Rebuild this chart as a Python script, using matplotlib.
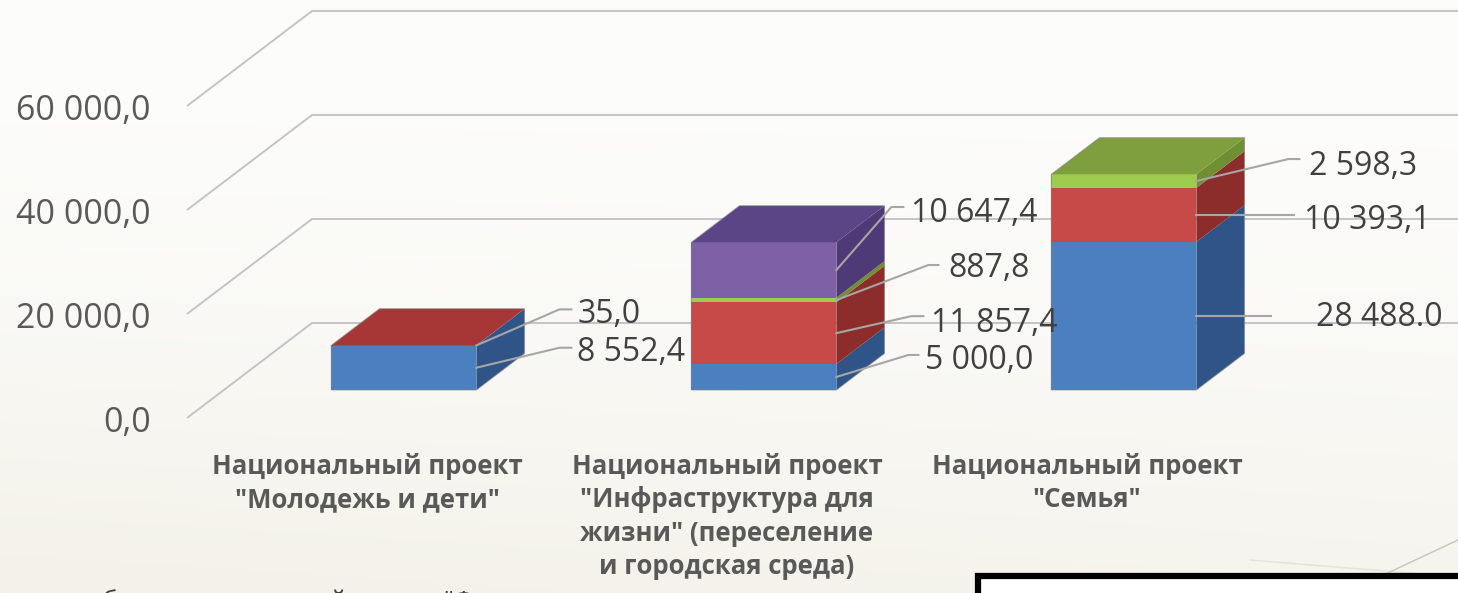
import numpy as np
import matplotlib.pyplot as plt
from matplotlib.patches import Polygon, Rectangle

plt.rcParams['font.family'] = ['Open Sans', 'DejaVu Sans']

# --- data ---
categories = [
    'Национальный проект\n"Молодежь и дети"',
    'Национальный проект\n"Инфраструктура для\nжизни" (переселение\nи городская среда)',
    'Национальный проект\n"Семья"',
]
blue_vals = [8552.4, 5000.0, 28488.0]
red_vals = [35.0, 11857.4, 10393.1]
green_vals = [0.0, 887.8, 2598.3]
purple_vals = [0.0, 10647.4, 0.0]
y_ticks = [0, 20000, 40000, 60000]

series = [blue_vals, red_vals, green_vals, purple_vals]
# front, side, top colours for each series
faces = [
    ('#4a7fc0', '#2f5588', '#3d6aa6'),
    ('#c84a48', '#8c2c2b', '#a63736'),
    ('#9fcb4f', '#6f8f32', '#7f9f3e'),
    ('#7e60a6', '#4e3a77', '#5b4587'),
]
# one label in the source uses a point instead of a comma
label_override = {(2, 0): '28 488.0'}

# leader line shape per label: elbow, end of leader, text anchor (pixels from bar edge)
leaders = {
    (0, 0): ((83, 20), (95, 20), (101, 15)),
    (0, 1): ((83, 36), (95, 36), (101, 31)),
    (1, 0): ((72, 22), (82, 22), (89, 16)),
    (1, 1): ((75, 17), (87, 17), (95, 10)),
    (1, 2): ((92, 35), (102, 35), (112, 32)),
    (1, 3): ((55, 63), (67, 63), (75, 57)),
    (2, 0): ((75, 0), (75, 0), (120, -2)),
    (2, 1): ((98, 0), (98, 0), (108, -6)),
    (2, 2): ((92, 22), (103, 22), (113, 15)),
}


def fmt(v):
    s = f'{v:,.1f}'.replace(',', ' ').replace('.', ',')
    return s


# --- layout (pixels) ---
W, H = 1458, 593
x0_px = 367        # centre of the first category on the front plane
step_px = 360      # distance between categories
zero_px = 418      # value 0 on the front plane, from the top
px_per_val = 0.0052
depth_px = (125, 95)
bar_half = 72.5 / step_px
z_front, z_back = 0.295, 0.68

fig = plt.figure(figsize=(W / 100, H / 100), dpi=100)

# background: warm off-white, a little darker towards the bottom
bg = fig.add_axes([0, 0, 1, 1])
yy = np.linspace(0, 1, 300)[:, None]
xx = np.linspace(0, 1, 600)[None, :]
top_c = np.array([0.992, 0.992, 0.988])
bot_c = np.array([0.953, 0.945, 0.910])
t = np.clip(yy ** 1.6 * (1.0 - 0.25 * xx), 0, 1)
img = top_c[None, None, :] * (1 - t[..., None]) + bot_c[None, None, :] * t[..., None]
bg.imshow(img, aspect='auto', extent=[0, 1, 0, 1], origin='upper')
bg.axis('off')

ax = fig.add_axes([0, 0, 1, 1])
ax.set_xlim(-x0_px / step_px, (W - x0_px) / step_px)
ax.set_ylim((zero_px - H) / px_per_val, zero_px / px_per_val)
ax.axis('off')
ax.patch.set_alpha(0)

dzx = depth_px[0] / step_px
dzy = depth_px[1] / px_per_val


def proj(x, v, z):
    return (x + z * dzx, v + z * dzy)


# gridlines: side wall diagonal then back wall
x_wall = -0.5
x_end = ax.get_xlim()[1]
for tk in y_ticks:
    p0 = proj(x_wall, tk, 0)
    p1 = proj(x_wall, tk, 1)
    ax.plot([p0[0], p1[0], x_end], [p0[1], p1[1], p1[1]],
            color='#c4c4c4', lw=1.4, zorder=1, solid_capstyle='butt')
    ax.annotate(fmt(tk), xy=p0, xytext=(-36, -5), textcoords='offset pixels',
                ha='right', va='center', fontsize=24.5, color='#595959')

# bars
to_disp = ax.transData.transform
to_data = ax.transData.inverted().transform
for i in range(len(categories)):
    bottom = 0.0
    tops = [k for k, s in enumerate(series) if s[i] > 0]
    for k, s in enumerate(series):
        h = s[i]
        if h <= 0:
            continue
        fc, sc, tc = faces[k]
        b, tp = bottom, bottom + h
        front = [proj(i - bar_half, b, z_front), proj(i + bar_half, b, z_front),
                 proj(i + bar_half, tp, z_front), proj(i - bar_half, tp, z_front)]
        side = [proj(i + bar_half, b, z_front), proj(i + bar_half, b, z_back),
                proj(i + bar_half, tp, z_back), proj(i + bar_half, tp, z_front)]
        ax.add_patch(Polygon(front, closed=True, fc=fc, ec='none', zorder=3))
        ax.add_patch(Polygon(side, closed=True, fc=sc, ec='none', zorder=3))
        if k == tops[-1]:
            top = [proj(i - bar_half, tp, z_front), proj(i + bar_half, tp, z_front),
                   proj(i + bar_half, tp, z_back), proj(i - bar_half, tp, z_back)]
            ax.add_patch(Polygon(top, closed=True, fc=tc, ec='none', zorder=3))

        # data label with leader line
        anchor = to_disp(proj(i + bar_half, b + h / 2, z_front))
        elbow, end, txt = leaders[(i, k)]
        pts = [anchor, anchor + np.array(elbow), anchor + np.array(end)]
        pts = to_data(np.array(pts))
        ax.plot(pts[:, 0], pts[:, 1], color='#a6a6a6', lw=1.5, zorder=4)
        label = label_override.get((i, k), fmt(h))
        tx, ty = to_data(anchor + np.array(txt))
        ax.text(tx, ty, label, ha='left', va='center', fontsize=23,
                color='#404040', zorder=5)
        bottom = tp

    # outline of the whole box
    total = bottom
    outline = [proj(i - bar_half, 0, z_front), proj(i + bar_half, 0, z_front),
               proj(i + bar_half, 0, z_back), proj(i + bar_half, total, z_back),
               proj(i - bar_half, total, z_back), proj(i - bar_half, total, z_front)]
    ax.add_patch(Polygon(outline, closed=True, fill=False, ec='#7f7f7f',
                         lw=0.8, alpha=0.6, zorder=3.5))

# category labels under the front plane
for i, name in enumerate(categories):
    ax.annotate(name, xy=(i, 0), xytext=(0, -35), textcoords='offset pixels',
                ha='center', va='top', fontsize=18.5, fontweight='bold',
                color='#595959', linespacing=1.3)

# slide decorations near the bottom edge
fig.add_artist(plt.Line2D([1250 / W, 1.0], [1 - 560 / H, 1 - 577 / H],
                          color='#e6e3d7', lw=1.0))
fig.add_artist(plt.Line2D([1345 / W, 1.0], [1 - 593 / H, 1 - 540 / H],
                          color='#c9c5b4', lw=1.0))
fig.text(68 / W, 1 - 609 / H, 'из бюджета и местный проект "Формирование',
         ha='left', va='baseline', fontsize=18, color='#404040')
box = Rectangle((978 / W, -0.05), 0.5, 1 - 576 / H + 0.05,
                transform=fig.transFigure, fc='white', ec='black', lw=4.5)
box.set_zorder(10)
fig.add_artist(box)

fig.savefig('out.png', dpi=100)
